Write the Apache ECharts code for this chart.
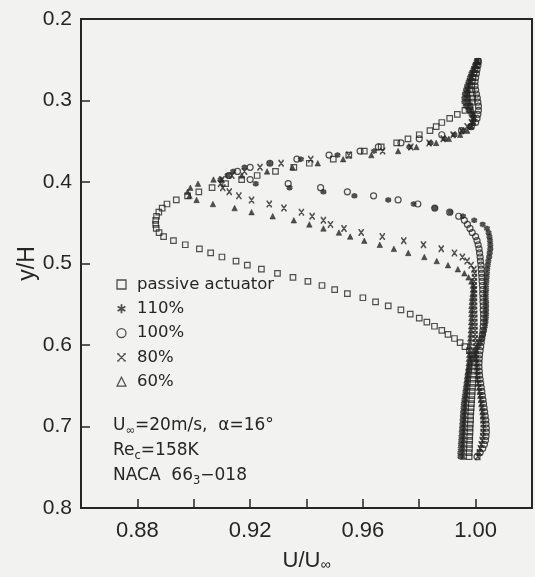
<!DOCTYPE html>
<html>
<head>
<meta charset="utf-8">
<script src="https://cdn.jsdelivr.net/npm/echarts@6/dist/echarts.min.js"></script>
<style>
  html, body { margin: 0; padding: 0; background: #f2f2f0; }
  #chart { width: 535px; height: 577px; }
</style>
</head>
<body>
<div id="chart"></div>
<script>
// Wake traverse positions y/H (shared by every run)
const yLevels = [
  0.252, 0.257, 0.262, 0.267, 0.272, 0.277, 0.282, 0.287, 0.292, 0.297,
  0.302, 0.307, 0.312, 0.317, 0.322, 0.327, 0.332, 0.337, 0.342, 0.347,
  0.352, 0.357, 0.362, 0.367, 0.372, 0.377, 0.382, 0.387, 0.392, 0.397,
  0.402, 0.407, 0.412, 0.417, 0.422, 0.427, 0.432, 0.437, 0.442, 0.447,
  0.452, 0.457, 0.462, 0.467, 0.472, 0.477, 0.482, 0.487, 0.492, 0.497,
  0.502, 0.507, 0.512, 0.517, 0.522, 0.527, 0.532, 0.537, 0.542, 0.547,
  0.552, 0.557, 0.562, 0.567, 0.572, 0.577, 0.582, 0.587, 0.592, 0.597,
  0.602, 0.607, 0.612, 0.617, 0.622, 0.627, 0.632, 0.637, 0.642, 0.647,
  0.652, 0.657, 0.662, 0.667, 0.672, 0.677, 0.682, 0.687, 0.692, 0.697,
  0.702, 0.707, 0.712, 0.717, 0.722, 0.727, 0.732, 0.737
];

// U/U_inf for each run, one value per y/H level
const passiveU = [
  1.0008, 1.0003, 0.9998, 0.9994, 0.9990, 0.9988, 0.9986, 0.9986, 0.9988, 0.9990,
  0.9988, 0.9980, 0.9962, 0.9935, 0.9908, 0.9880, 0.9860, 0.9838, 0.9800, 0.9760,
  0.9720, 0.9665, 0.9605, 0.9550, 0.9495, 0.9410, 0.9355, 0.9290, 0.9225, 0.9170,
  0.9113, 0.9065, 0.9018, 0.8978, 0.8938, 0.8905, 0.8888, 0.8876, 0.8868, 0.8865,
  0.8865, 0.8867, 0.8877, 0.8893, 0.8928, 0.8970, 0.9020, 0.9060, 0.9100, 0.9150,
  0.9190, 0.9240, 0.9297, 0.9352, 0.9405, 0.9455, 0.9500, 0.9545, 0.9600, 0.9645,
  0.9690, 0.9735, 0.9768, 0.9800, 0.9827, 0.9854, 0.9880, 0.9902, 0.9925, 0.9945,
  0.9962, 0.9978, 0.9988, 0.9992, 0.9995, 0.9996, 0.9995, 0.9993, 0.9991, 0.9990,
  0.9989, 0.9988, 0.9987, 0.9986, 0.9985, 0.9984, 0.9983, 0.9982, 0.9982, 0.9981,
  0.9980, 0.9980, 0.9979, 0.9979, 0.9978, 0.9978, 0.9977, 0.9977
];
const u110 = [
  1.0004, 0.9998, 0.9992, 0.9985, 0.9980, 0.9975, 0.9970, 0.9966, 0.9962, 0.9960,
  0.9960, 0.9965, 0.9975, 0.9985, 0.9992, 0.9990, 0.9980, 0.9955, 0.9925, 0.9890,
  0.9840, 0.9765, 0.9640, 0.9510, 0.9380, 0.9270, 0.9180, 0.9140, 0.9120, 0.9095,
  0.9220, 0.9340, 0.9460, 0.9570, 0.9690, 0.9780, 0.9855, 0.9910, 0.9955, 0.9995,
  1.0025, 1.0040, 1.0046, 1.0049, 1.0051, 1.0052, 1.0052, 1.0050, 1.0048, 1.0045,
  1.0043, 1.0041, 1.0040, 1.0039, 1.0038, 1.0037, 1.0037, 1.0036, 1.0036, 1.0037,
  1.0037, 1.0037, 1.0037, 1.0036, 1.0035, 1.0033, 1.0030, 1.0026, 1.0021, 1.0015,
  1.0008, 1.0000, 0.9993, 0.9987, 0.9982, 0.9978, 0.9975, 0.9972, 0.9970, 0.9968,
  0.9966, 0.9964, 0.9962, 0.9960, 0.9958, 0.9957, 0.9956, 0.9955, 0.9954, 0.9953,
  0.9952, 0.9951, 0.9950, 0.9949, 0.9948, 0.9947, 0.9946, 0.9946
];
const u100 = [
  1.0010, 1.0008, 1.0005, 1.0003, 1.0000, 0.9998, 0.9998, 1.0000, 1.0003, 1.0006,
  1.0008, 1.0010, 1.0010, 1.0008, 1.0005, 1.0000, 0.9985, 0.9950, 0.9880, 0.9800,
  0.9735, 0.9655, 0.9590, 0.9480, 0.9366, 0.9270, 0.9200, 0.9155, 0.9125, 0.9200,
  0.9335, 0.9450, 0.9545, 0.9638, 0.9725, 0.9795, 0.9855, 0.9908, 0.9940, 0.9960,
  0.9971, 0.9980, 0.9988, 1.0000, 1.0005, 1.0009, 1.0012, 1.0014, 1.0016, 1.0017,
  1.0019, 1.0020, 1.0021, 1.0022, 1.0023, 1.0024, 1.0025, 1.0025, 1.0026, 1.0026,
  1.0027, 1.0027, 1.0028, 1.0028, 1.0028, 1.0027, 1.0026, 1.0024, 1.0022, 1.0020,
  1.0018, 1.0016, 1.0014, 1.0013, 1.0012, 1.0012, 1.0013, 1.0014, 1.0016, 1.0018,
  1.0020, 1.0022, 1.0024, 1.0026, 1.0028, 1.0030, 1.0032, 1.0034, 1.0036, 1.0037,
  1.0038, 1.0038, 1.0037, 1.0035, 1.0031, 1.0025, 1.0016, 1.0005
];
const u80 = [
  1.0006, 1.0000, 0.9994, 0.9988, 0.9983, 0.9978, 0.9974, 0.9970, 0.9968, 0.9968,
  0.9970, 0.9975, 0.9982, 0.9988, 0.9990, 0.9985, 0.9970, 0.9950, 0.9920, 0.9885,
  0.9835, 0.9770, 0.9670, 0.9550, 0.9415, 0.9310, 0.9235, 0.9180, 0.9135, 0.9100,
  0.9095, 0.9103, 0.9126, 0.9160, 0.9205, 0.9268, 0.9320, 0.9382, 0.9420, 0.9460,
  0.9485, 0.9533, 0.9594, 0.9669, 0.9745, 0.9815, 0.9878, 0.9925, 0.9953, 0.9970,
  0.9984, 0.9994, 0.9996, 0.9996, 0.9995, 0.9995, 0.9996, 0.9996, 0.9996, 0.9996,
  0.9996, 0.9996, 0.9997, 0.9997, 0.9997, 0.9998, 0.9998, 0.9998, 0.9999, 1.0000,
  1.0000, 1.0001, 1.0002, 1.0003, 1.0004, 1.0005, 1.0006, 1.0007, 1.0008, 1.0010,
  1.0012, 1.0014, 1.0016, 1.0018, 1.0020, 1.0022, 1.0024, 1.0025, 1.0026, 1.0027,
  1.0027, 1.0026, 1.0025, 1.0023, 1.0020, 1.0017, 1.0013, 1.0008
];
const u60 = [
  1.0008, 1.0002, 0.9996, 0.9990, 0.9986, 0.9982, 0.9978, 0.9975, 0.9974, 0.9975,
  0.9978, 0.9982, 0.9988, 0.9993, 0.9995, 0.9993, 0.9985, 0.9970, 0.9945, 0.9905,
  0.9860, 0.9790, 0.9725, 0.9630, 0.9530, 0.9440, 0.9350, 0.9260, 0.9170, 0.9070,
  0.9015, 0.8988, 0.8978, 0.8985, 0.9010, 0.9068, 0.9145, 0.9205, 0.9280, 0.9355,
  0.9410, 0.9460, 0.9515, 0.9555, 0.9605, 0.9660, 0.9710, 0.9761, 0.9818, 0.9862,
  0.9902, 0.9937, 0.9960, 0.9975, 0.9985, 0.9990, 0.9990, 0.9989, 0.9987, 0.9986,
  0.9985, 0.9985, 0.9985, 0.9985, 0.9984, 0.9984, 0.9983, 0.9982, 0.9981, 0.9980,
  0.9979, 0.9978, 0.9977, 0.9976, 0.9975, 0.9974, 0.9973, 0.9972, 0.9971, 0.9970,
  0.9969, 0.9968, 0.9967, 0.9966, 0.9965, 0.9964, 0.9963, 0.9962, 0.9961, 0.9960,
  0.9960, 0.9959, 0.9958, 0.9958, 0.9957, 0.9957, 0.9956, 0.9956
];

// Tick values that carry a label on the U/U_inf axis
const xLabelTicks = [0.88, 0.92, 0.96, 1.00];

const ink = '#262626';
const SYM_ASTERISK = 'path://M5,0 L5,10 M0.67,2.5 L9.33,7.5 M9.33,2.5 L0.67,7.5';
const SYM_BOWTIE = 'path://M0,0 L10,10 M10,0 L0,10 M-1.5,0 L2,0 M8,0 L11.5,0 M-1.5,10 L2,10 M8,10 L11.5,10';

const toPoints = xs => xs.map((u, i) => [u, yLevels[i]]);

function scatter(name, data, symbol, size, style) {
  return {
    name, type: 'scatter', data: toPoints(data),
    symbol, symbolSize: size,
    itemStyle: Object.assign({ color: 'none', borderColor: ink, borderWidth: 1.2 }, style),
    emphasis: { disabled: true },
    z: 3
  };
}

const chart = echarts.init(document.getElementById('chart'), null, { renderer: 'canvas' });

const tickFont = 'Liberation Sans, Arial, Helvetica, sans-serif';
const textFont = 'DejaVu Sans, Verdana, sans-serif';

chart.setOption({
  backgroundColor: '#f2f2f0',
  animation: false,
  grid: {
    left: 81, right: 1, top: 19, bottom: 68,
    show: true, borderColor: ink, borderWidth: 2, backgroundColor: 'transparent'
  },
  xAxis: {
    type: 'value', min: 0.86, max: 1.02, interval: 0.02,
    axisLine: { show: true, lineStyle: { color: ink, width: 2 } },
    axisTick: { show: true, inside: true, length: 9, lineStyle: { color: ink, width: 1.5 } },
    splitLine: { show: false },
    axisLabel: {
      margin: 12, fontSize: 22, fontFamily: tickFont, color: ink,
      formatter: v => xLabelTicks.some(t => Math.abs(t - v) < 1e-6) ? v.toFixed(2) : ''
    },
    name: '{n|U/U}{s|∞}',
    nameLocation: 'middle', nameGap: 41,
    nameTextStyle: {
      rich: {
        n: { fontSize: 22, fontFamily: tickFont, color: ink },
        s: { fontSize: 14, fontFamily: tickFont, color: ink, verticalAlign: 'bottom', padding: [9, 0, 0, 0] }
      }
    }
  },
  yAxis: {
    type: 'value', inverse: true, min: 0.2, max: 0.8, interval: 0.1,
    axisLine: { show: true, lineStyle: { color: ink, width: 2 } },
    axisTick: { show: true, inside: true, length: 9, lineStyle: { color: ink, width: 1.5 } },
    splitLine: { show: false },
    axisLabel: { margin: 9, fontSize: 21, fontFamily: tickFont, color: ink, formatter: v => v.toFixed(1) },
    name: 'y/H', nameLocation: 'middle', nameGap: 42, nameRotate: 90,
    nameMoveOverlap: false,
    nameTextStyle: { fontSize: 23, fontFamily: tickFont, color: ink }
  },
  legend: {
    orient: 'vertical', left: 109.5, top: 271, selectedMode: false,
    itemWidth: 9, itemHeight: 9, itemGap: 7.3,
    textStyle: { fontSize: 16.5, lineHeight: 17, fontFamily: textFont, color: ink, padding: [0, 0, 0, 6] },
    data: [
      { name: 'passive actuator', itemStyle: { color: 'none', borderColor: ink, borderWidth: 1.3 } },
      { name: '110%', itemStyle: { color: 'none', borderColor: ink, borderWidth: 1.8 } },
      { name: '100%', itemStyle: { color: 'none', borderColor: ink, borderWidth: 1.3 } },
      { name: '80%', itemStyle: { color: 'none', borderColor: ink, borderWidth: 1.3 } },
      { name: '60%', itemStyle: { color: 'none', borderColor: ink, borderWidth: 1.2 } }
    ]
  },
  graphic: [
    {
      type: 'text', left: 113, top: 415,
      style: {
        text: '{t|U}{s|∞}{t|=20m/s,  α=16°}\n{t|Re}{s|c}{t|=158K}\n{t|NACA  66}{s|3}{t|−018}',
        rich: {
          t: { fontSize: 17, fontFamily: textFont, fill: ink, lineHeight: 25 },
          s: { fontSize: 11.5, fontFamily: textFont, fill: ink, lineHeight: 25, padding: [10, 0, 0, 0] }
        }
      }
    }
  ],
  series: [
    scatter('passive actuator', passiveU, 'rect', 5.5, { borderWidth: 1.2 }),
    scatter('100%', u100, 'circle', 6, { borderWidth: 1.2 }),
    scatter('60%', u60, 'triangle', 5.5, { color: ink, borderWidth: 0.6 }),
    scatter('80%', u80, SYM_BOWTIE, 5.5, { borderWidth: 1.5 }),
    scatter('110%', u110, SYM_ASTERISK, 5.5, { borderWidth: 2.2 })
  ]
});
</script>
</body>
</html>
